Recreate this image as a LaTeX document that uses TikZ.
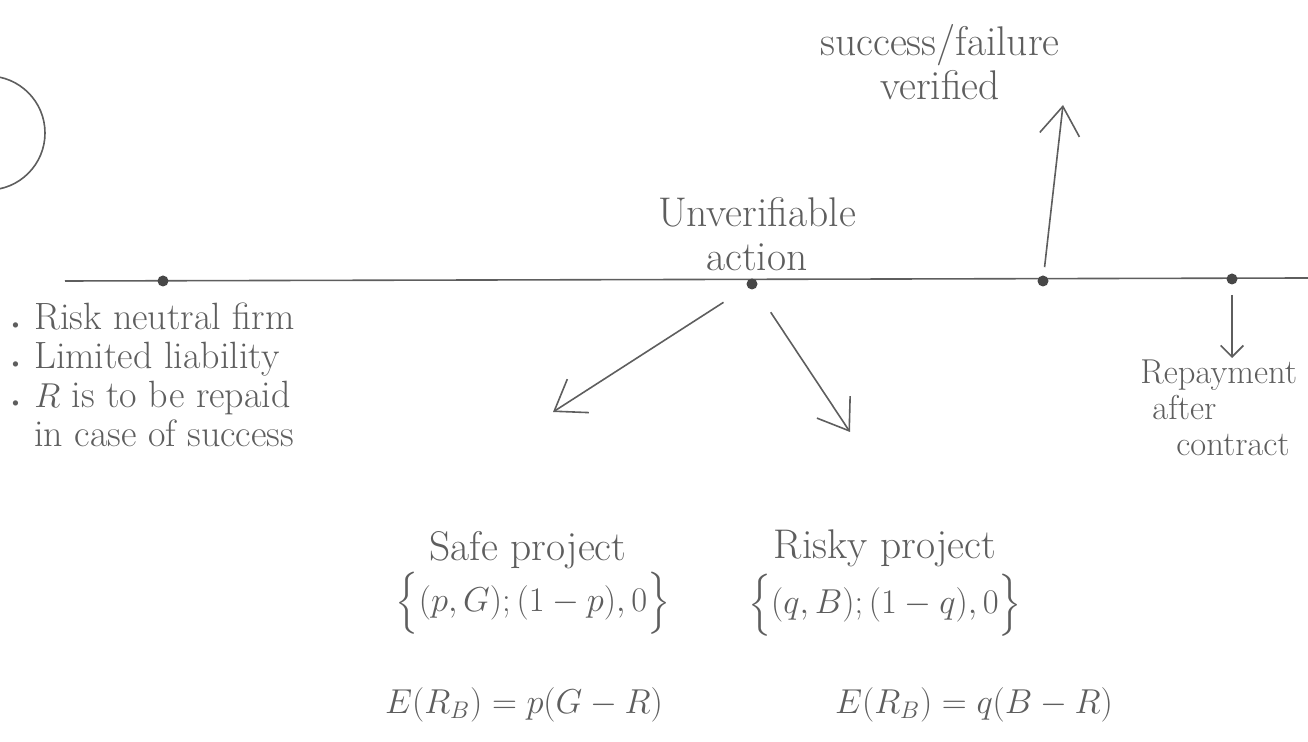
\documentclass[tikz,border=0pt]{standalone}
\usetikzlibrary{positioning,arrows.meta}
\usepackage{amsmath}
\usepackage{xcolor}
\definecolor{lapiz}{HTML}{5E5E5E}
\definecolor{punto}{HTML}{474747}

\begin{document}
\begin{tikzpicture}[x=0.5pt, y=-0.5pt, font=\LARGE, >={Straight Barb[length=5mm, width=7mm]},
      p/.style={circle, fill=punto, inner sep=0pt, minimum size=5.5pt},
      t/.style={text=lapiz, align=center, inner sep=1pt},
      l/.style={draw=lapiz, line width=0.8pt}]
    \useasboundingbox (0,0) rectangle (1308,742);
    \clip (0,0) rectangle (1308,742);
    % circled number, cut off at the edge
    \draw[l] (-12,133) circle [radius=28.5pt];
    % timeline
    \coordinate (ti) at (65,281);
    \coordinate (tf) at (1308,278);
    \draw[l] (ti) -- (tf);
    \node[p] (d1) at (163,281) {};
    \node[p] (d2) at (752,284) {};
    \node[p] (d3) at (1043,281) {};
    \node[p] (d4) at (1232,279) {};
    % labels on the line
    \node[t, font=\huge] (act) at (757,234) {Unverifiable\\[-3pt]action};
    \node[t, font=\huge] (ver) at (940,62) {success/failure\\[-3pt]verified};
    \node[t, font=\fontsize{19}{19.5}\selectfont, align=left, anchor=north west] (hyp) at (6,300)
      {{\small\textbullet}\ Risk neutral firm\\
       {\small\textbullet}\ Limited liability\\
       {\small\textbullet}\ $R$ is to be repaid\\
       \phantom{{\small\textbullet}}\ in case of success};
    \node[t, align=left, anchor=north west] (rep) at (1138,358)
      {Repayment\\[-4pt]\hspace{6pt}after\\[-4pt]\hspace{18pt}contract};
    % projects
    \node[t, font=\huge] (safe) at (528,550) {Safe project};
    \node[t] (sl) at (533,603) {$\Bigl\{(p,G);(1-p),0\Bigr\}$};
    \node[t] (se) at (524,705) {$E(R_B)=p(G-R)$};
    \node[t, font=\huge] (risky) at (885,548) {Risky project};
    \node[t] (rl) at (885,605) {$\Bigl\{(q,B);(1-q),0\Bigr\}$};
    \node[t] (re) at (974,705) {$E(R_B)=q(B-R)$};
    % arrows
    \coordinate (sa) at (553,412);
    \coordinate (ra) at (850,432);
    \coordinate (va) at (1063,105);
    \draw[l, ->, shorten <=14pt] (d2) -- (sa);
    \draw[l, ->, shorten <=14pt] (d2) -- (ra);
    \draw[l, ->, shorten <=4pt] (d3) -- (va);
    \draw[l, ->, >={Straight Barb[length=2mm, width=4mm]}, shorten <=5pt] (d4) -- (d4 |- rep.north);
  \end{tikzpicture}
\end{document}
